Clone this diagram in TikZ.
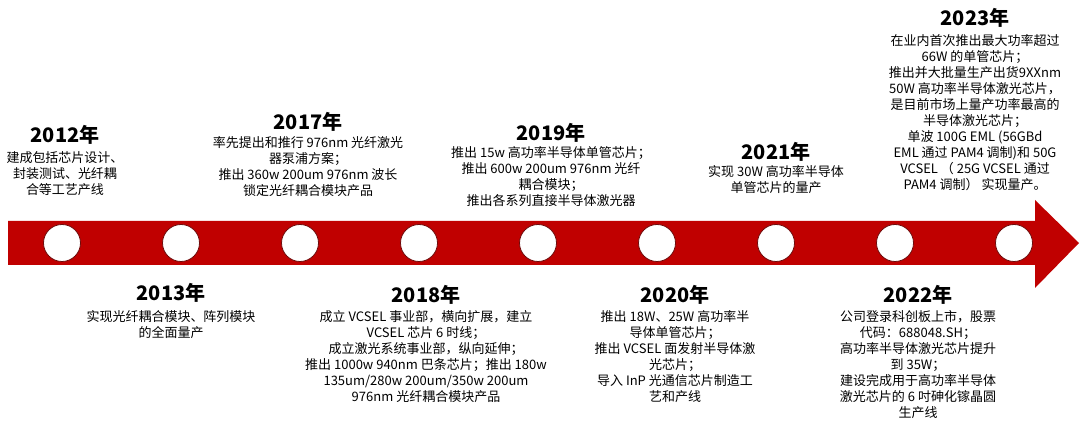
\documentclass[tikz,border=0pt]{standalone}
\usepackage{fontspec}
\setmainfont{Noto Sans CJK SC}
\definecolor{arrowred}{RGB}{192,0,0}
\definecolor{rimred}{RGB}{110,10,10}

\begin{document}
\begin{tikzpicture}[x=1pt, y=-1pt,
    yr/.style={font=\fontsize{20}{24}\selectfont\bfseries, inner sep=0pt},
    desc/.style={font=\fontsize{13}{16}\selectfont, align=center, inner sep=0pt, anchor=north},
    dot/.style={circle, draw=rimred, line width=0.8pt, fill=white, minimum size=37pt, inner sep=0pt}]
    \useasboundingbox (0,0) rectangle (1080,430);
    % timeline arrow
    \fill[arrowred] (8,221) -- (1035,221) -- (1035,200) -- (1079,243) -- (1035,288) -- (1035,265) -- (8,265) -- cycle;
    \foreach \i in {0,...,8}
        \node (c\i) at (62+119*\i,243) [dot] {};
    % above the arrow
    \node (y2012) at (65,135) [yr] {2012年};
    \node (d2012) at (65,151.5) [desc] {建成包括芯片设计、\\封装测试、光纤耦\\合等工艺产线};
    \node (y2017) at (308,122) [yr] {2017年};
    \node (d2017) at (308,136.5) [desc] {率先提出和推行 976nm 光纤激光\\器泵浦方案；\\推出 360w 200um 976nm 波长\\锁定光纤耦合模块产品};
    \node (y2019) at (551,133) [yr] {2019年};
    \node (d2019) at (551,146.5) [desc] {推出 15w 高功率半导体单管芯片；\\推出 600w 200um 976nm 光纤\\耦合模块；\\推出各系列直接半导体激光器};
    \node (y2021) at (776,152) [yr] {2021年};
    \node (d2021) at (776,165.5) [desc] {实现 30W 高功率半导体\\单管芯片的量产};
    \node (y2023) at (975,18) [yr] {2023年};
    \node (d2023) at (975,34.5) [desc] {在业内首次推出最大功率超过\\66W 的单管芯片；\\推出并大批量生产出货9XXnm\\50W 高功率半导体激光芯片，\\是目前市场上量产功率最高的\\半导体激光芯片；\\单波 100G EML (56GBd\\EML 通过 PAM4 调制)和 50G\\VCSEL （ 25G VCSEL 通过\\PAM4 调制） 实现量产。};
    % below the arrow
    \node (y2013) at (171,293) [yr] {2013年};
    \node (d2013) at (171,310.5) [desc] {实现光纤耦合模块、阵列模块\\的全面量产};
    \node (y2018) at (426,295) [yr] {2018年};
    \node (d2018) at (426,310.5) [desc] {成立 VCSEL 事业部，横向扩展，建立\\VCSEL 芯片 6 时线；\\成立激光系统事业部，纵向延伸；\\推出 1000w 940nm 巴条芯片；推出 180w\\135um/280w 200um/350w 200um\\976nm 光纤耦合模块产品};
    \node (y2020) at (675,295) [yr] {2020年};
    \node (d2020) at (675,310.5) [desc] {推出 18W、25W 高功率半\\导体单管芯片；\\推出 VCSEL 面发射半导体激\\光芯片；\\导入 InP 光通信芯片制造工\\艺和产线};
    \node (y2022) at (918,295) [yr] {2022年};
    \node (d2022) at (918,310.5) [desc] {公司登录科创板上市，股票\\代码：688048.SH；\\高功率半导体激光芯片提升\\到 35W；\\建设完成用于高功率半导体\\激光芯片的 6 吋砷化镓晶圆\\生产线};
\end{tikzpicture}
\end{document}
